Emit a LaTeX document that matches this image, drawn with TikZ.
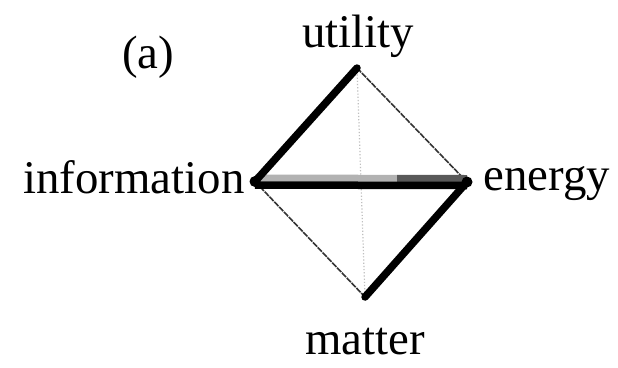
\documentclass[tikz,border=0pt]{standalone}
\usepackage{fontspec}
\setmainfont{Liberation Serif}
\usetikzlibrary{calc}
\begin{document}
\begin{tikzpicture}[x=1bp,y=-1bp,
  lbl/.style={font=\fontsize{47}{52}\selectfont, anchor=base, inner sep=0pt},
  thickedge/.style={line width=7.5bp, line cap=round, black},
  thinedge/.style={line width=1.6bp, black!80, dash pattern=on 6bp off 1bp},
  axis/.style={line width=1.2bp, black!25, dotted}]
\fill[white] (0,0) rectangle (618,367);
\useasboundingbox (0,0) rectangle (618,367);
\coordinate (u) at (357,68);
\coordinate (i) at (255,181.5);
\coordinate (e) at (467,182);
\coordinate (m) at (365,297);
\coordinate (mid) at ($(i)!0.67!(e)$);
% vertical dotted axis
\draw[axis] (u) -- (m);
% thin edges
\draw[thinedge] (u) -- (e);
\draw[thinedge] (i) -- (m);
% horizontal double band
\draw[line width=7bp, black!30] ([yshift=3.5bp]i) -- ([yshift=3.5bp]mid);
\draw[line width=7bp, black!65] ([yshift=3.5bp]mid) -- ([yshift=3.5bp]e);
\draw[line width=7.5bp, black] ([yshift=-3.5bp]i) -- ([yshift=-3.5bp]e);
% thick edges
\draw[thickedge] (i) -- (u);
\draw[thickedge] (e) -- (m);
\fill (i) circle (5.5bp);
\fill (e) circle (5.5bp);
% labels
\node[lbl] (la) at (148,68) {(a)};
\node[lbl] (lu) at (358,47) {utility};
\node[lbl] (li) at (134,193) {information};
\node[lbl] (le) at (547,190) {energy};
\node[lbl, text depth=0pt] (lm) at (365,354) {matter};
\end{tikzpicture}
\end{document}
